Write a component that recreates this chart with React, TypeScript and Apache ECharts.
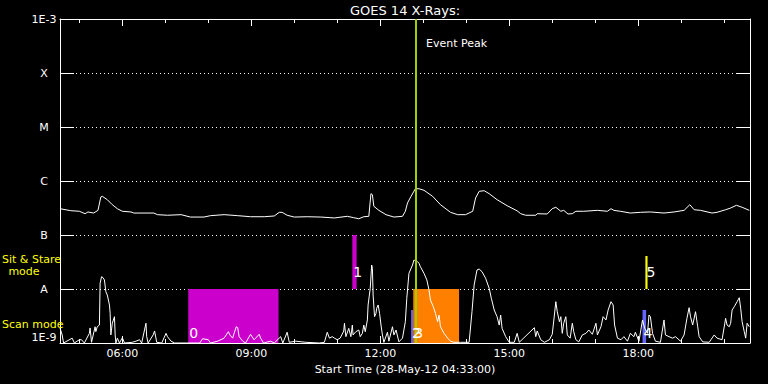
import React, { useEffect, useRef } from 'react';
import * as echarts from 'echarts';

const FONT = '"DejaVu Sans", sans-serif';

// GOES 14 long channel (1-8 Å)
const longTimes = ['04:33','04:48','05:00','05:08','05:12','05:20','05:26','05:30','05:32','05:39','05:46','05:53','06:00','06:12','06:16','06:44','06:49','07:03','07:22','07:35','07:54','08:03','08:22','08:41','08:59','09:18','09:32','09:39','09:43','09:50','10:00','10:18','10:37','10:56','11:14','11:23','11:30','11:37','11:44','11:47','11:49','11:51','11:58','12:08','12:19','12:31','12:35','12:38','12:43','12:49','12:54','13:01','13:13','13:24','13:38','13:48','13:59','14:09','14:13','14:18','14:25','14:32','14:43','14:57','15:11','15:16','15:23','15:37','15:39','15:53','16:00','16:05','16:12','16:16','16:22','16:28','16:33','16:44','17:03','17:17','17:22','17:26','17:35','17:49','18:03','18:17','18:36','18:50','19:04','19:12','19:18','19:27','19:43','19:50','20:02','20:09','20:17','20:25','20:35'];
const longFlux = [3.07e-7,2.82e-7,2.75e-7,2.48e-7,2.67e-7,2.55e-7,2.86e-7,5.06e-7,5.21e-7,4.51e-7,3.64e-7,3.07e-7,2.75e-7,2.67e-7,2.55e-7,2.55e-7,2.38e-7,2.32e-7,2.38e-7,2.15e-7,2.15e-7,2.28e-7,2.38e-7,2.28e-7,2.18e-7,2.18e-7,2.25e-7,2.63e-7,2.63e-7,2.32e-7,2.15e-7,2.18e-7,2.15e-7,2.07e-7,2.22e-7,2.09e-7,2.0e-7,2.18e-7,2.22e-7,5.82e-7,5.57e-7,3.4e-7,2.86e-7,2.38e-7,2.15e-7,2.22e-7,2.75e-7,3.92e-7,5.21e-7,7.19e-7,7.19e-7,6.73e-7,5.21e-7,3.64e-7,2.63e-7,2.38e-7,2.38e-7,2.75e-7,4.84e-7,6.44e-7,6.61e-7,5.82e-7,4.51e-7,3.49e-7,2.8e-7,2.48e-7,2.32e-7,2.32e-7,2.48e-7,2.45e-7,3.07e-7,3.26e-7,2.75e-7,2.86e-7,2.45e-7,2.48e-7,2.75e-7,2.75e-7,2.86e-7,2.75e-7,3.07e-7,2.86e-7,2.75e-7,2.55e-7,2.63e-7,2.67e-7,2.55e-7,2.67e-7,2.86e-7,3.64e-7,2.94e-7,2.86e-7,2.55e-7,2.63e-7,2.94e-7,3.16e-7,3.55e-7,3.26e-7,2.86e-7];

// GOES 14 short channel (0.5-4 Å)
const shortTimes = ['04:33','04:36','04:38','04:50','04:53','05:00','05:03','05:07','05:14','05:15','05:17','05:22','05:23','05:25','05:28','05:29','05:31','05:33','05:35','05:37','05:39','05:42','05:43','05:44','05:46','05:49','05:50','05:51','05:53','05:56','06:00','06:03','06:14','06:19','06:24','06:27','06:33','06:34','06:36','06:43','06:45','06:48','06:55','07:01','07:03','07:08','07:13','07:48','07:52','08:00','08:03','08:13','08:22','08:28','08:30','08:34','08:36','08:39','08:41','08:43','08:48','08:52','08:59','09:01','09:04','09:11','09:13','09:17','09:27','09:32','09:41','09:44','09:50','09:53','10:02','10:16','10:35','10:42','10:46','10:49','10:53','10:56','11:00','11:04','11:09','11:10','11:12','11:16','11:19','11:21','11:22','11:26','11:30','11:32','11:35','11:37','11:39','11:42','11:43','11:46','11:48','11:49','11:50','11:52','11:54','11:55','11:57','11:59','12:01','12:03','12:05','12:10','12:12','12:17','12:19','12:22','12:26','12:31','12:35','12:37','12:40','12:45','12:47','12:52','12:54','12:56','13:01','13:05','13:08','13:10','13:14','13:17','13:20','13:22','13:24','13:29','13:34','13:38','13:43','13:52','14:04','14:08','14:11','14:15','14:18','14:22','14:27','14:32','14:35','14:39','14:43','14:46','14:48','14:50','14:55','15:00','15:07','15:11','15:14','15:35','15:37','15:39','15:44','15:49','15:56','16:00','16:03','16:05','16:07','16:10','16:12','16:14','16:16','16:19','16:21','16:25','16:28','16:30','16:33','16:37','16:42','16:47','16:51','16:56','17:01','17:03','17:08','17:11','17:15','17:18','17:22','17:25','17:27','17:31','17:36','17:40','17:45','17:49','17:54','17:56','18:01','18:06','18:09','18:13','18:15','18:17','18:20','18:24','18:31','18:36','18:38','18:43','18:48','18:52','18:59','19:04','19:08','19:11','19:13','19:16','19:20','19:23','19:25','19:30','19:39','19:46','19:50','19:57','20:02','20:04','20:07','20:09','20:11','20:14','20:18','20:21','20:23','20:25','20:28','20:30','20:32','20:35'];
const shortFlux = [1.9e-9,1.41e-9,1e-9,1.23e-9,1e-9,1.15e-9,1.15e-9,1e-9,1.51e-9,1.9e-9,1.03e-9,2.0e-9,1.62e-9,2.0e-9,2.15e-9,1.28e-8,1.69e-8,1.62e-8,1.47e-8,8.91e-9,7.74e-9,5.06e-9,3.55e-9,1.41e-9,2.32e-9,3.07e-9,1.41e-9,1e-9,1.23e-9,1e-9,1.25e-9,1e-9,1.03e-9,1.08e-9,1.15e-9,1e-9,2.32e-9,1.31e-9,1e-9,1.41e-9,1.67e-9,1.03e-9,1e-9,1.51e-9,1.31e-9,1.08e-9,1e-9,1e-9,1.2e-9,1.15e-9,1e-9,1.08e-9,1.23e-9,1.62e-9,1.41e-9,1.23e-9,1.51e-9,2.0e-9,1.92e-9,1.31e-9,1.08e-9,1e-9,1.45e-9,1.31e-9,1.15e-9,1.45e-9,1.23e-9,1e-9,1.08e-9,1e-9,1.31e-9,1e-9,1.58e-9,1.03e-9,1.08e-9,1.03e-9,1e-9,1.03e-9,1.58e-9,1.23e-9,1.31e-9,1.23e-9,1.15e-9,1.23e-9,1.67e-9,2.32e-9,1.31e-9,1.87e-9,1.31e-9,2.15e-9,1.41e-9,1.62e-9,1.74e-9,1.31e-9,1.51e-9,2.15e-9,1.62e-9,2.67e-9,5.06e-9,1.03e-8,2.78e-8,2.41e-8,7.74e-9,3.07e-9,3.55e-9,4.4e-9,5.06e-9,3.55e-9,2.15e-9,1.41e-9,1.03e-9,1.58e-9,1.08e-9,2.0e-9,1.41e-9,1.74e-9,1.05e-9,1.23e-9,2.48e-9,6.73e-9,1.95e-8,2.78e-8,3.44e-8,3.21e-8,2.99e-8,2.59e-8,1.95e-8,1.47e-8,9.58e-9,6.25e-9,4.7e-9,3.55e-9,2.48e-9,3.3e-9,2.0e-9,1.51e-9,1.23e-9,1.08e-9,1.03e-9,1.03e-9,1.03e-9,3.8e-9,1.19e-8,2.25e-8,2.34e-8,2.09e-8,1.58e-8,1.03e-8,6.73e-9,4.08e-9,3.07e-9,2.15e-9,3.3e-9,1.87e-9,1.31e-9,1.03e-9,1.03e-9,1.51e-9,1.03e-9,1.92e-9,1.31e-9,1.67e-9,1.15e-9,1.03e-9,1.15e-9,1.45e-9,3.3e-9,5.82e-9,3.8e-9,2.48e-9,3.07e-9,1.51e-9,2.32e-9,3.07e-9,1.41e-9,1.23e-9,2.32e-9,1.62e-9,1.15e-9,1.05e-9,1.41e-9,1.51e-9,1.74e-9,1.45e-9,2.32e-9,1.41e-9,2.0e-9,3.07e-9,2.67e-9,4.08e-9,5.82e-9,5.06e-9,2.15e-9,1.23e-9,1.15e-9,1.31e-9,1.08e-9,1.51e-9,1.31e-9,1.58e-9,1.08e-9,2.67e-9,1.87e-9,1.51e-9,3.3e-9,3.07e-9,1.51e-9,1.08e-9,1.03e-9,2.67e-9,1.41e-9,1.31e-9,1.23e-9,1.31e-9,1.08e-9,1.41e-9,2.86e-9,4.51e-9,3.07e-9,2.15e-9,3.8e-9,2.0e-9,1.31e-9,1.05e-9,1.03e-9,1.41e-9,1.23e-9,1.15e-9,2.86e-9,2.15e-9,2.0e-9,2.32e-9,4.08e-9,4.7e-9,5.82e-9,6.9e-9,4.4e-9,2.48e-9,1.62e-9,1.23e-9,2.32e-9,2.0e-9];

// Axes
const startTime = '04:33';
const endTime = '20:36';
const xMajorHours = [6, 9, 12, 15, 18];
const xMinorHours = [5, 6, 7, 8, 9, 10, 11, 12, 13, 14, 15, 16, 17, 18, 19, 20];
const yTickExponents = [-9, -8, -7, -6, -5, -4, -3];
const yTickLabels = ['1E-9', 'A', 'B', 'C', 'M', 'X', '1E-3'];
const yMin = 1e-9;
const yMax = 1e-3;

// Events
const eventLabels = ['0', '1', '2', '3', '4', '5'];
const eventStart = ['07:32', '11:21', '12:43', '12:46', '18:06', '18:10'];
const eventEnd = ['09:38', '11:27', '12:46', '13:50', '18:11', '18:13'];
const eventLow = [1e-9, 1e-8, 1e-9, 1e-9, 1e-9, 1e-8];
const eventHigh = [1e-8, 1e-7, 4.08e-9, 1e-8, 4.08e-9, 4.08e-8];
const eventLabelLevel = [1.53e-9, 2.07e-8, 1.53e-9, 1.53e-9, 1.5e-9, 2.07e-8];
const eventColors = ['#cc00cc', '#cc00cc', '#6464ff', '#ff8000', '#6464ff', '#ffff00'];
const peakTime = '12:49';

function toHours(s: string): number {
  const [h, m] = s.split(':').map(Number);
  return h + m / 60;
}

export default function App() {
  const ref = useRef<HTMLDivElement>(null);
  useEffect(() => {
    const chart = echarts.init(ref.current!, null, { renderer: 'svg' });
    const t0 = toHours(startTime);
    const t1 = toHours(endTime);
    const longData = longTimes.map((t, i) => [toHours(t), longFlux[i]]);
    const shortData = shortTimes.map((t, i) => [toHours(t), shortFlux[i]]);
    const eventData = eventStart.map((s, i) => [toHours(s), toHours(eventEnd[i]), eventLow[i], eventHigh[i], eventLabelLevel[i], i]);
    const white = '#ffffff';
    const baseX = {
      type: 'value', min: t0, max: t1,
      splitLine: { show: false },
    };
    const yLabel = (v: number) => {
      const e = Math.round(Math.log10(v));
      const idx = yTickExponents.indexOf(e);
      return idx >= 0 ? yTickLabels[idx] : '';
    };
    const option: any = {
      backgroundColor: '#000',
      animation: false,
      grid: { left: 60, right: 18, top: 19, bottom: 41 },
      xAxis: [
        {
          ...baseX, position: 'bottom',
          axisLine: { show: true, lineStyle: { color: white, width: 1 } },
          axisTick: { show: true, inside: true, length: 7, customValues: xMajorHours, lineStyle: { color: white } },
          axisLabel: {
            show: true, customValues: xMajorHours, color: white, fontSize: 11, fontFamily: FONT, margin: 5,
            formatter: (v: number) => `${String(Math.round(v)).padStart(2, '0')}:00`,
          },
          name: 'Start Time (28-May-12 04:33:00)', nameLocation: 'middle', nameGap: 19,
          nameTextStyle: { color: white, fontSize: 11, fontFamily: FONT },
        },
        {
          ...baseX, position: 'bottom',
          axisLine: { show: false },
          axisTick: { show: true, inside: true, length: 4, customValues: xMinorHours, lineStyle: { color: white } },
          axisLabel: { show: false },
        },
        {
          ...baseX, position: 'top',
          axisLine: { show: true, lineStyle: { color: white, width: 1 } },
          axisTick: { show: true, inside: true, length: 7, customValues: xMajorHours, lineStyle: { color: white } },
          axisLabel: { show: false },
        },
        {
          ...baseX, position: 'top',
          axisLine: { show: false },
          axisTick: { show: true, inside: true, length: 4, customValues: xMinorHours, lineStyle: { color: white } },
          axisLabel: { show: false },
        },
      ],
      yAxis: [
        {
          type: 'log', logBase: 10, min: yMin, max: yMax, position: 'left',
          axisLine: { show: true, lineStyle: { color: white, width: 1 } },
          axisTick: { show: true, inside: true, length: 14, lineStyle: { color: white } },
          axisLabel: {
            show: true, color: white, fontSize: 11, fontFamily: FONT, align: 'center', margin: 16,
            formatter: yLabel, verticalAlignMinLabel: 'bottom', verticalAlignMaxLabel: 'top',
          },
          splitLine: { show: true, lineStyle: { color: white, type: [1, 3], width: 1 } },
          minorTick: { show: false },
        },
        {
          type: 'log', logBase: 10, min: yMin, max: yMax, position: 'right',
          axisLine: { show: true, lineStyle: { color: white, width: 1 } },
          axisTick: { show: true, inside: true, length: 14, lineStyle: { color: white } },
          axisLabel: { show: false },
          splitLine: { show: false },
        },
      ],
      series: [
        {
          type: 'custom', name: 'events', xAxisIndex: 0, yAxisIndex: 0, z: 1, silent: true,
          encode: { x: [0, 1], y: [2, 3] },
          data: eventData,
          renderItem: (params: any, api: any) => {
            const i = api.value(5);
            const a = api.coord([api.value(0), api.value(3)]);
            const b = api.coord([api.value(1), api.value(2)]);
            return {
              type: 'rect',
              shape: { x: a[0], y: a[1], width: b[0] - a[0], height: b[1] - a[1] },
              style: { fill: eventColors[i] },
            };
          },
        },
        {
          type: 'line', name: 'long', xAxisIndex: 0, yAxisIndex: 0, z: 3,
          data: longData, showSymbol: false, symbol: 'none', clip: true,
          lineStyle: { color: white, width: 1 },
        },
        {
          type: 'line', name: 'short', xAxisIndex: 0, yAxisIndex: 0, z: 3,
          data: shortData, showSymbol: false, symbol: 'none', clip: true,
          lineStyle: { color: white, width: 1 },
        },
        {
          type: 'custom', name: 'eventLabels', xAxisIndex: 0, yAxisIndex: 0, z: 6, silent: true,
          encode: { x: 0, y: 4 },
          data: eventData,
          renderItem: (params: any, api: any) => {
            const i = api.value(5);
            const p = api.coord([api.value(0), api.value(4)]);
            return {
              type: 'text', x: p[0] + 1, y: p[1],
              style: {
                text: eventLabels[i], fill: white, fontSize: 14, fontFamily: FONT,
                align: 'left', verticalAlign: 'middle',
              },
            };
          },
          markLine: {
            silent: true, symbol: 'none', label: { show: false },
            lineStyle: { color: '#a0d000', width: 2, type: 'solid' },
            data: [{ xAxis: toHours(peakTime) }],
          },
        },
      ],
      graphic: [
        { type: 'text', x: 405, y: 10, style: { text: 'GOES 14 X-Rays:', fill: white, fontSize: 13, fontFamily: FONT, align: 'center', verticalAlign: 'middle' } },
        { type: 'text', x: 426, y: 43, z: 10, style: { text: 'Event Peak', fill: white, fontSize: 11, fontFamily: FONT, align: 'left', verticalAlign: 'middle' } },
        { type: 'text', x: 2, y: 259, z: 10, style: { text: 'Sit & Stare', fill: '#ffff00', fontSize: 11, fontFamily: FONT, align: 'left', verticalAlign: 'middle' } },
        { type: 'text', x: 24, y: 271, z: 10, style: { text: 'mode', fill: '#ffff00', fontSize: 11, fontFamily: FONT, align: 'center', verticalAlign: 'middle' } },
        { type: 'text', x: 2, y: 324, z: 10, style: { text: 'Scan mode', fill: '#ffff00', fontSize: 11, fontFamily: FONT, align: 'left', verticalAlign: 'middle' } },
      ],
    };
    chart.setOption(option);
    return () => chart.dispose();
  }, []);
  return (
    <div
      ref={ref}
      style={{ position: 'fixed', left: 0, top: 0, width: 768, height: 384, background: '#000' }}
    />
  );
}
